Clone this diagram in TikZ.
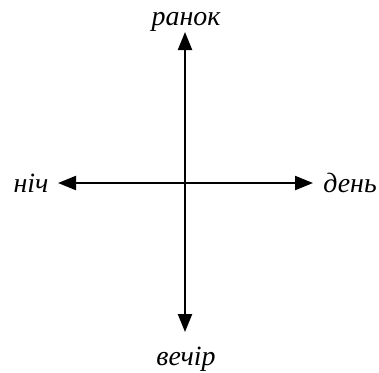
\documentclass[tikz,border=0pt]{standalone}
\usepackage{fontspec}
\setmainfont{Liberation Serif}
\usetikzlibrary{arrows.meta}

\begin{document}
\begin{tikzpicture}[
  x=0.5bp, y=-0.5bp,
  axis/.style={line width=1.1bp, -{Triangle[length=9bp, width=7bp]}},
  word/.style={font=\fontsize{14}{16}\selectfont\itshape, anchor=base, inner sep=0pt},
]
\useasboundingbox (0,0) rectangle (379,372);

% ====== labels ======
\node[word] (morning) at (186, 25) {ранок};
\node[word] (night) at (31, 192) {ніч};
\node[word] (day) at (350, 192) {день};
\node[word] (evening) at (186, 365) {вечір};

% ====== arrow tips ======
\coordinate (c) at (185, 183);
\coordinate (tN) at (185, 32);
\coordinate (tS) at (185, 332);
\coordinate (tW) at (58, 183);
\coordinate (tE) at (313, 183);

\draw[axis] (c) -- (tN);
\draw[axis] (c) -- (tS);
\draw[axis] (c) -- (tW);
\draw[axis] (c) -- (tE);

\end{tikzpicture}
\end{document}
